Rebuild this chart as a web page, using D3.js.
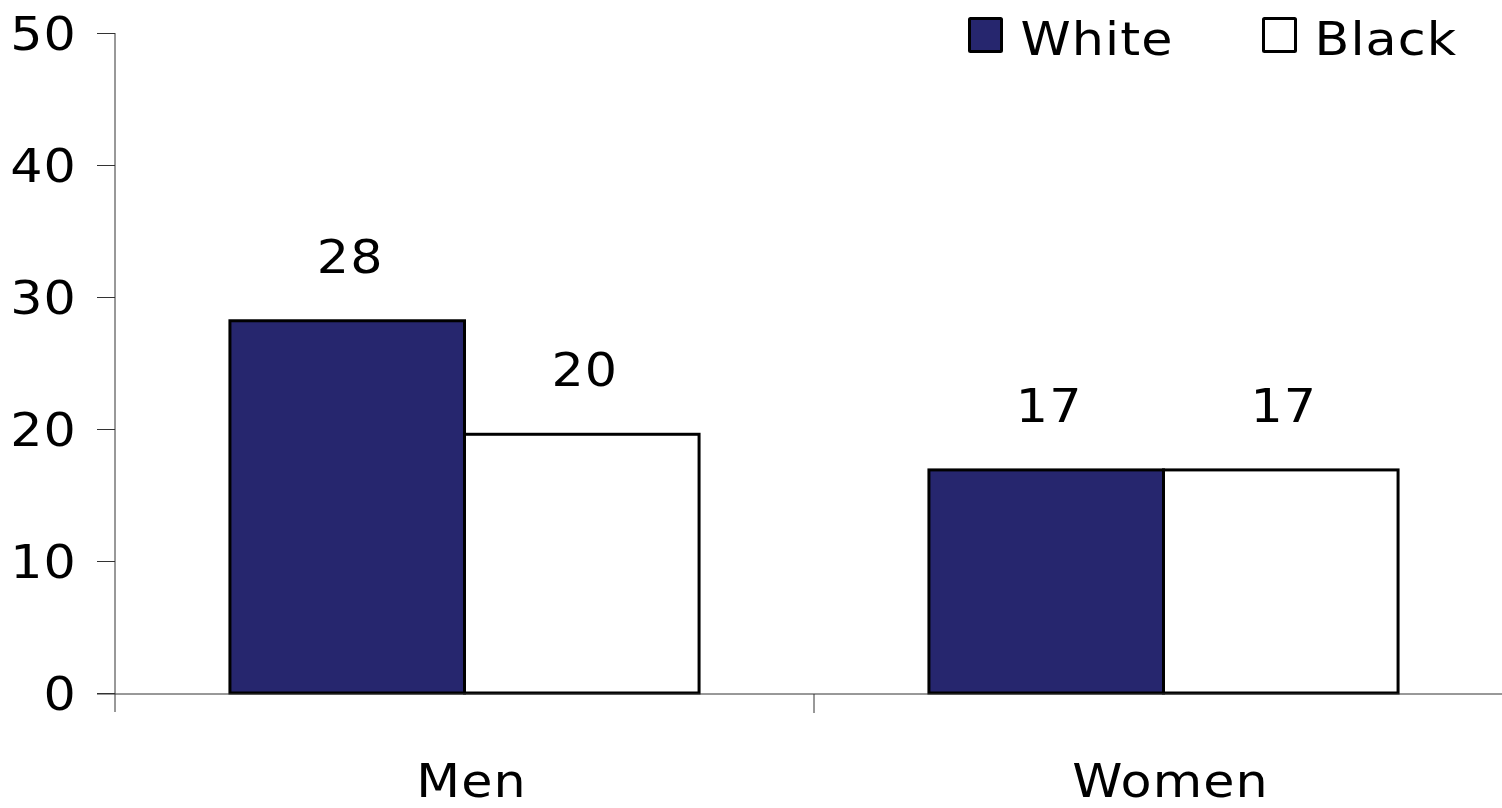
<!DOCTYPE html>
<html><head><meta charset="utf-8">
<script src="https://cdn.jsdelivr.net/npm/d3@7"></script>
<style>html,body{margin:0;padding:0;background:#fff;overflow:hidden}</style>
</head><body>
<svg id="c" width="1502" height="808"></svg>
<script>
const categories = ["Men", "Women"];
const seriesNames = ["White", "Black"];
const whiteValues = [28.2, 16.9];
const blackValues = [19.6, 16.9];
const yTicks = [0, 10, 20, 30, 40, 50];
const colors = ["#26266e", "#ffffff"];

const font = "'DejaVu Sans', sans-serif";
const fs = 47, ls = 1, sx = 1.08;
const svg = d3.select("#c");
const x0 = 115, x1 = 1513, yTop = 33, yBot = 693;

const x = d3.scaleBand().domain(categories).range([x0, x1]);
const xs = d3.scaleBand().domain(seriesNames).range([0, x.bandwidth()]).paddingOuter(0.49);
const y = d3.scaleLinear().domain([0, 50]).range([yBot, yTop]);

const data = categories.map((c, i) => ({cat: c, vals: [
  {s: "White", v: whiteValues[i]}, {s: "Black", v: blackValues[i]}]}));

function label(px, py, txt, anchor, dy) {
  return svg.append("text")
    .attr("transform", `translate(${px},${py}) scale(${sx},1)`)
    .attr("font-family", font).attr("font-size", fs).attr("letter-spacing", ls).attr("fill", "#000")
    .attr("text-anchor", anchor || "start").attr("dy", dy || 0)
    .text(txt);
}

// y axis
const yAxis = d3.axisLeft(y).tickValues(yTicks).tickSize(18).tickSizeOuter(0).tickFormat("");
const gy = svg.append("g").attr("transform", `translate(${x0},0)`).call(yAxis);
gy.select(".domain").remove();
gy.selectAll(".tick line").attr("stroke", "#333");
yTicks.forEach(t => label(x0 - 38, y(t), t, "end", "0.36em"));
svg.append("line").attr("x1", x0).attr("x2", x0).attr("y1", yTop).attr("y2", yBot + 19).attr("stroke", "#333");

// bars
const g = svg.append("g");
data.forEach(d => {
  d.vals.forEach((e, j) => {
    g.append("rect")
      .attr("x", x(d.cat) + xs(e.s))
      .attr("y", y(e.v))
      .attr("width", xs.bandwidth())
      .attr("height", y(0) - y(e.v))
      .attr("fill", colors[j])
      .attr("stroke", "#000").attr("stroke-width", 3);
    label(x(d.cat) + xs(e.s) + xs.bandwidth() / 2 + 3, y(e.v) - 48, d3.format(".0f")(e.v), "middle");
  });
});

// x axis
svg.append("line").attr("x1", 97).attr("x2", 1502).attr("y1", yBot + 1).attr("y2", yBot + 1).attr("stroke", "#333");
categories.forEach((c, i) => {
  if (i > 0) svg.append("line").attr("x1", x(c)).attr("x2", x(c)).attr("y1", yBot + 1).attr("y2", yBot + 20).attr("stroke", "#333");
  label(x(c) + x.bandwidth() / 2 + 7, 797, c, "middle");
});

// legend
const legendX = [969.5, 1263.5];
seriesNames.forEach((s, i) => {
  svg.append("rect").attr("x", legendX[i]).attr("y", 18.5).attr("width", 32).attr("height", 33)
    .attr("fill", colors[i]).attr("stroke", "#000").attr("stroke-width", 3).attr("rx", 1);
  label(legendX[i] + 51, 55, s, "start");
});
</script>
</body></html>
